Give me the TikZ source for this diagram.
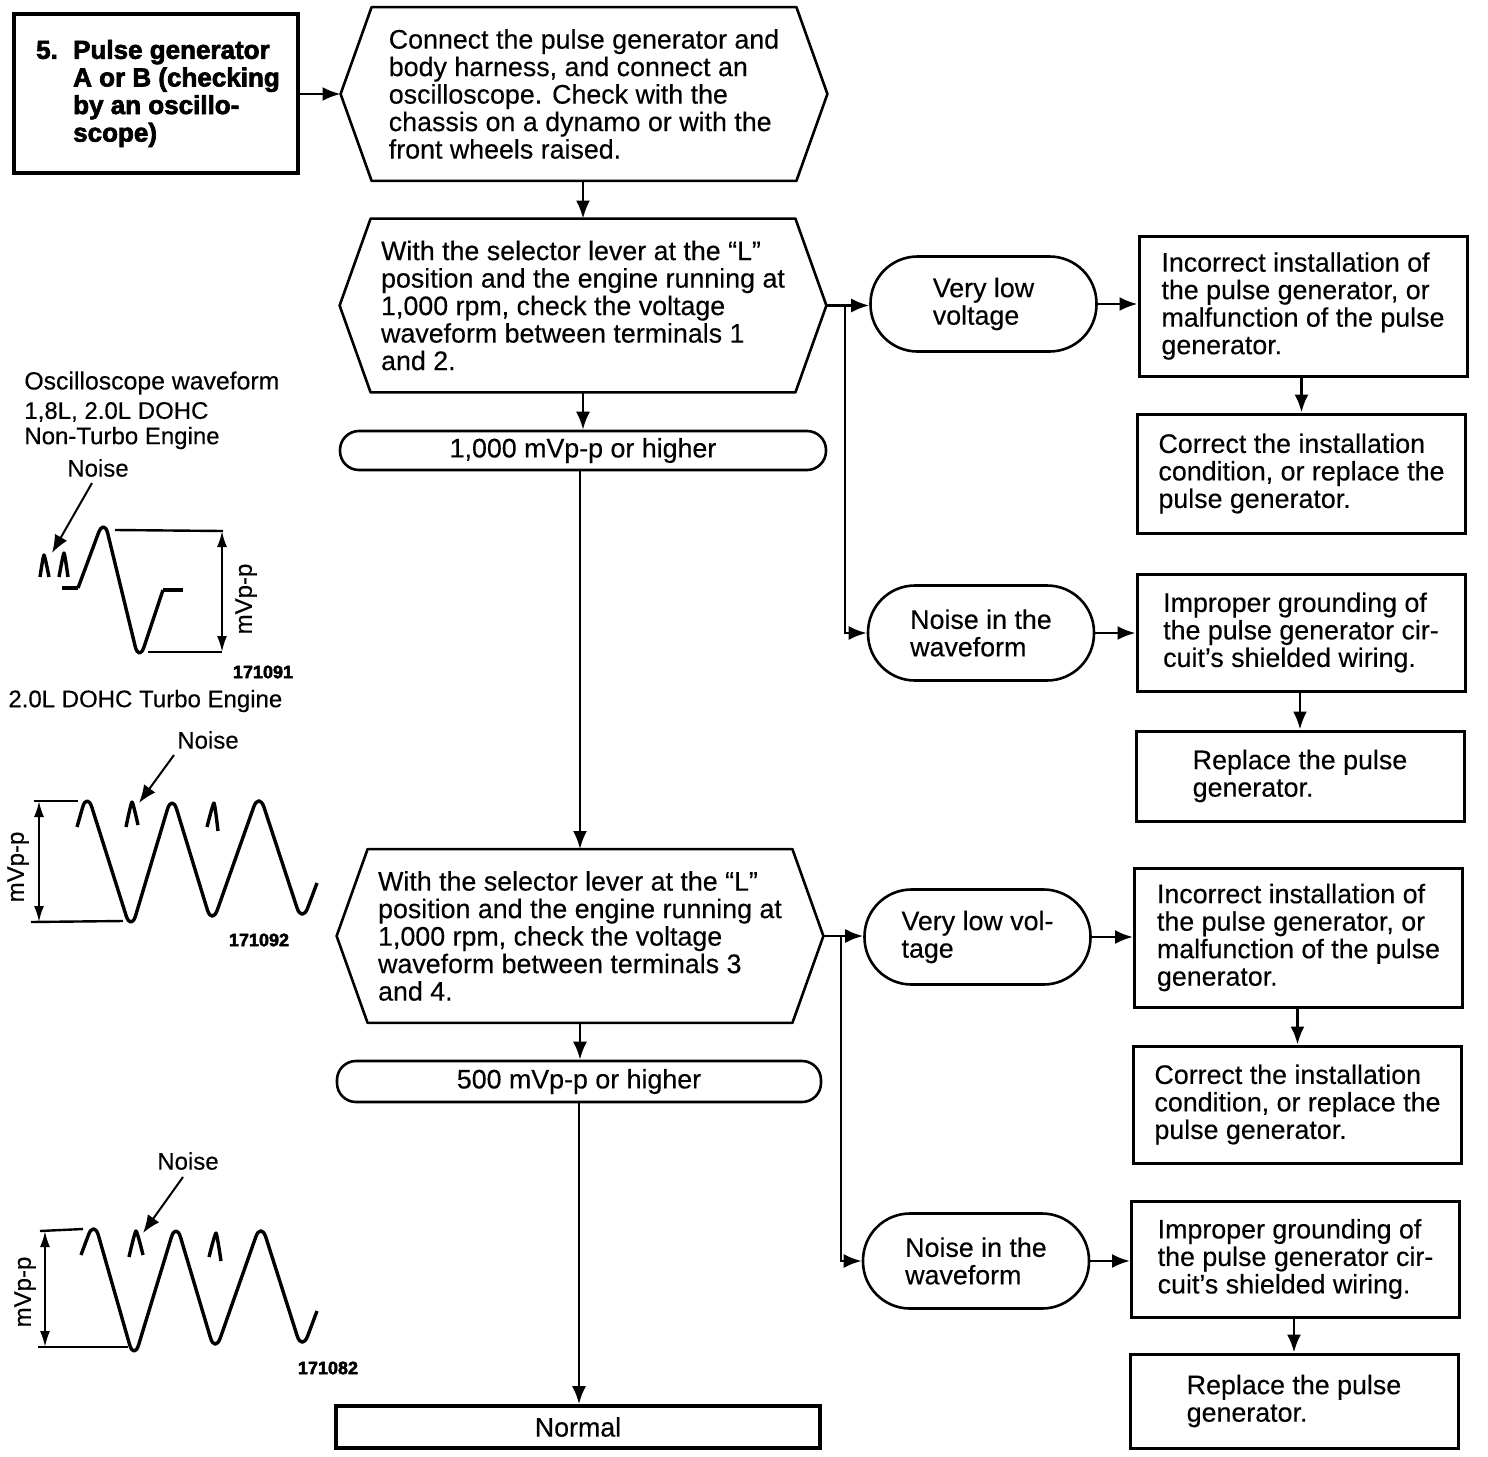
\documentclass[tikz,border=0pt]{standalone}
\usepackage{fontspec}
\setmainfont{Liberation Sans}[FakeBold=0.3,BoldFeatures={FakeBold=2.6}]
\usetikzlibrary{arrows.meta}
\newcommand{\bfs}{\fontsize{13.4}{13.75}\selectfont}
\newcommand{\hexa}[1]{\draw[line width=1.3pt,line join=round] (#1.west) -- ([xshift=15.5pt]#1.north west) -- ([xshift=-15.5pt]#1.north east) -- (#1.east) -- ([xshift=-15.5pt]#1.south east) -- ([xshift=15.5pt]#1.south west) -- cycle;}
\tikzset{
 x=0.5pt,y=-0.5pt,
 txt/.style={font=\bfs,align=left,inner sep=0pt},
 hexbox/.style={txt,minimum width=243pt,minimum height=86.5pt},
 pill/.style={txt,draw,line width=1.3pt,rounded corners=9.5pt,minimum width=243pt,minimum height=19.5pt},
 oval/.style={txt,draw,line width=1.3pt,rounded corners=23.5pt,minimum width=113pt,minimum height=47.5pt},
 act/.style={txt,draw,line width=1.5pt,minimum width=164pt},
 conn/.style={line width=1.3pt,-{Latex[length=9pt,width=7pt]}},
 wave/.style={line width=1.7pt,line join=round},
 peaks/.style={wave,rounded corners=8pt},
 refl/.style={line width=1.2pt},
 dim/.style={line width=1pt,{Latex[length=8pt,width=5pt]}-{Latex[length=8pt,width=5pt]}},
 note/.style={font=\fontsize{12}{12}\selectfont,inner sep=0pt},
 code/.style={font=\fontsize{9}{10}\selectfont\bfseries,inner sep=0pt},
}
\begin{document}
\begin{tikzpicture}
\useasboundingbox (0,0) rectangle (1488,1456);
% flow nodes
\node[font=\fontsize{13}{13.8}\selectfont\bfseries,align=left,inner sep=0pt,draw,line width=2pt,minimum width=142pt,minimum height=79.5pt] (start) at (156,93.5)
 {\hspace*{2pt}\makebox[18.5pt][l]{5.}Pulse generator\\\hspace*{20.5pt}A or B (checking\\\hspace*{20.5pt}by an oscillo-\\\hspace*{20.5pt}scope)};
\node[hexbox] (hex1) at (584,94) {Connect the pulse generator and\\body harness, and connect an\\oscilloscope. Check with the\\chassis on a dynamo or with the\\front wheels raised.};
\node[hexbox] (hex2) at (583,305.5) {With the selector lever at the “L”\\position and the engine running at\\1,000 rpm, check the voltage\\waveform between terminals 1\\and 2.};
\node[pill] (ok1) at (583,450.5) {1,000 mVp-p or higher};
\node[hexbox] (hex3) at (580,936) {With the selector lever at the “L”\\position and the engine running at\\1,000 rpm, check the voltage\\waveform between terminals 3\\and 4.};
\node[pill,minimum width=242pt,minimum height=20.5pt] (ok2) at (579,1081.5) {500 mVp-p or higher};
\node[txt,draw,line width=1.8pt,minimum width=242pt,minimum height=21pt] (normal) at (578,1427) {Normal};
\hexa{hex1}\hexa{hex2}\hexa{hex3}
\node[oval] (vl1) at (983.5,304) {Very low\\voltage};
\node[oval] (n1) at (981,633) {Noise in the\\waveform};
\node[oval] (vl2) at (977.5,937) {Very low vol-\\tage};
\node[oval] (n2) at (976,1261) {Noise in the\\waveform};
\node[act,minimum height=70pt] (b1) at (1303,306) {Incorrect installation of\\the pulse generator, or\\malfunction of the pulse\\generator.};
\node[act,minimum height=59.5pt] (b2) at (1301.5,473.5) {Correct the installation\\condition, or replace the\\pulse generator.};
\node[act,minimum height=58.5pt] (b3) at (1301,632.5) {Improper grounding of\\the pulse generator cir-\\cuit’s shielded wiring.};
\node[act,minimum height=45pt] (b4) at (1300,776) {Replace the pulse\\generator.};
\node[act,minimum height=69.5pt] (b5) at (1298.5,937.5) {Incorrect installation of\\the pulse generator, or\\malfunction of the pulse\\generator.};
\node[act,minimum height=58.5pt] (b6) at (1297.5,1104.5) {Correct the installation\\condition, or replace the\\pulse generator.};
\node[act,minimum height=58pt] (b7) at (1295.5,1259) {Improper grounding of\\the pulse generator cir-\\cuit’s shielded wiring.};
\node[act,minimum height=47pt] (b8) at (1294,1401) {Replace the pulse\\generator.};
% connectors
\draw[conn] (start.east |- hex1.west) -- (hex1.west);
\draw[conn] (hex2.north |- hex1.south) -- (hex2.north);
\draw[conn] (hex2.south) -- (hex2.south |- ok1.north);
\draw[conn] (hex3.north |- ok1.south) -- (hex3.north);
\draw[conn] (hex3.south) -- (hex3.south |- ok2.north);
\draw[conn] (ok2.south) -- (ok2.south |- normal.north);
\coordinate (j1) at (hex2.east -| 845,0);
\coordinate (j2) at (hex3.east -| 841,0);
\draw[conn] (hex2.east) -- (hex2.east -| vl1.west);
\draw[conn] (j1) |- (n1.west);
\draw[conn] (hex3.east) -- (hex3.east -| vl2.west);
\draw[conn] (j2) |- (n2.west);
\draw[conn] (vl1.east) -- (vl1.east -| b1.west);
\draw[conn] (n1.east) -- (n1.east -| b3.west);
\draw[conn] (vl2.east) -- (vl2.east -| b5.west);
\draw[conn] (n2.east) -- (n2.east -| b7.west);
\draw[conn] (b2.north |- b1.south) -- (b2.north);
\draw[conn] (b4.north |- b3.south) -- (b4.north);
\draw[conn] (b6.north |- b5.south) -- (b6.north);
\draw[conn] (b8.north |- b7.south) -- (b8.north);
% left notes
\node[note,anchor=west,font=\fontsize{12.4}{12}\selectfont] (t1) at (24,383) {Oscilloscope waveform};
\node[note,anchor=west] (t2) at (24,412) {1,8L, 2.0L DOHC};
\node[note,anchor=west] (t3) at (24,438) {Non-Turbo Engine};
\node[note,anchor=west] (t4) at (8,701) {2.0L DOHC Turbo Engine};
\node[note] (na) at (98,468) {Noise};
\node[note] (nb) at (208,740) {Noise};
\node[note] (nc) at (188,1161) {Noise};
\node[note,rotate=90] (ma) at (246,599) {mVp-p};
\node[note,rotate=90] (mb) at (18,867) {mVp-p};
\node[note,rotate=90] (mc) at (25,1292) {mVp-p};
\node[code] (ca) at (263,672) {171091};
\node[code] (cb) at (259,940) {171092};
\node[code] (cc) at (328,1368) {171082};
% waveform 1
\draw[conn,line width=1pt] (92,483) -- (52,553);
\draw[wave] plot[smooth,tension=.3] coordinates {(40,577)(44,555)(49,577)};
\draw[wave] plot[smooth,tension=.3] coordinates {(59,577)(64,553)(68,577)};
\draw[wave] (62,588) -- (78,588);
\draw[peaks] (78,588) -- (104,518) -- (139,662) -- (163,590);
\draw[wave] (163,590) -- (183,590);
\draw[refl] (115,530) -- (223,531);
\draw[refl] (148,652) -- (222,652);
\draw[dim] (222,531) -- (222,652);
% waveform 2
\draw[dim] (39,801) -- (39,922);
\draw[refl] (34,801) -- (78,801);
\draw[refl] (31,922) -- (123,921);
\draw[conn,line width=1pt] (174,755) -- (139,803);
\draw[wave] plot[smooth,tension=.3] coordinates {(126,827)(132,802)(138,825)};
\draw[wave] plot[smooth,tension=.3] coordinates {(207,827)(214,803)(218,831)};
\draw[peaks] (77,827) -- (87,792) -- (131,931) -- (172,794) -- (212,925) -- (259,792) -- (302,923) -- (317,883);
% waveform 3
\draw[dim] (45,1231) -- (45,1347);
\draw[refl] (40,1231) -- (83,1229);
\draw[refl] (38,1347) -- (128,1347);
\draw[conn,line width=1pt] (183,1177) -- (143,1233);
\draw[wave] plot[smooth,tension=.3] coordinates {(129,1257)(136,1231)(143,1255)};
\draw[wave] plot[smooth,tension=.3] coordinates {(209,1257)(216,1233)(221,1261)};
\draw[peaks] (81,1255) -- (94,1220) -- (134,1360) -- (176,1222) -- (215,1353) -- (261,1222) -- (302,1351) -- (317,1311);
\end{tikzpicture}
\end{document}
